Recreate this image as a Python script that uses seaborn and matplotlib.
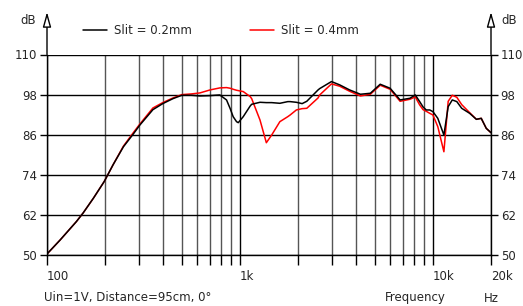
import numpy as np
import pandas as pd
import matplotlib
matplotlib.use('Agg')
import matplotlib.pyplot as plt
from matplotlib.ticker import FixedLocator, FixedFormatter, NullFormatter
import seaborn as sns

# Frequency response (Hz / dB)
freq = [100, 117, 142, 154, 174, 198, 220, 249, 280, 303, 354, 398, 450, 500,
        560, 620, 700, 786, 852, 890, 922, 960, 980, 1040, 1130, 1150, 1270,
        1370, 1460, 1610, 1770, 1820, 1960, 2100, 2220, 2540, 2590, 2980, 3290,
        3700, 4210, 4740, 5330, 6000, 6760, 7600, 8100, 8540, 8890, 9240, 9630,
        10000, 10600, 11400, 12000, 12600, 13300, 14100, 15500, 16800, 17800,
        18900, 20000]
slit_02 = [50.3, 54.5, 60.0, 62.6, 67.0, 72.0, 77.0, 82.4, 86.2, 88.9, 93.5,
           95.3, 96.8, 97.8, 97.8, 97.6, 97.7, 97.9, 96.4, 93.8, 91.4, 89.9,
           89.6, 91.4, 94.6, 95.1, 95.7, 95.6, 95.6, 95.4, 95.9, 95.9, 95.7,
           95.3, 96.0, 99.4, 99.8, 101.9, 100.9, 99.4, 98.1, 98.4, 101.1, 99.9,
           96.4, 96.9, 97.9, 95.9, 94.3, 93.4, 93.4, 92.9, 90.9, 85.9, 94.4,
           96.4, 95.9, 93.9, 92.4, 90.6, 90.9, 87.9, 86.6]
slit_04 = [50.3, 54.5, 60.0, 62.6, 67.0, 72.0, 77.0, 82.6, 86.6, 89.2, 94.0,
           95.6, 97.0, 98.0, 98.2, 98.5, 99.4, 100.0, 100.1, 99.9, 99.6, 99.3,
           99.2, 98.9, 97.4, 96.8, 90.4, 83.6, 85.9, 89.9, 91.4, 91.9, 93.4,
           93.8, 93.9, 97.0, 97.9, 101.2, 100.5, 99.0, 97.6, 98.1, 100.8, 99.6,
           96.0, 96.6, 97.3, 94.9, 93.5, 93.0, 92.4, 91.9, 88.4, 80.9, 96.0,
           97.8, 97.2, 95.0, 92.6, 90.6, 90.9, 87.9, 86.6]

y_ticks = [50, 62, 74, 86, 98, 110]
x_major = [100, 1000, 10000, 20000]
x_labels = ['100', '1k', '10k', '20k']
x_minor = [200, 300, 400, 500, 600, 700, 800, 900,
           2000, 3000, 4000, 5000, 6000, 7000, 8000, 9000]

df = pd.DataFrame({'Frequency': freq, 'Slit = 0.2mm': slit_02,
                   'Slit = 0.4mm': slit_04})

sns.set_style('white')
plt.rcParams['font.family'] = ['DejaVu Sans']

fig = plt.figure(figsize=(5.23, 3.06), dpi=100)
ax = fig.add_axes([47 / 523, 51 / 306, 444 / 523, 200.5 / 306])

sns.lineplot(data=df, x='Frequency', y='Slit = 0.4mm', color='red', lw=1.1,
             ax=ax, label='Slit = 0.4mm')
sns.lineplot(data=df, x='Frequency', y='Slit = 0.2mm', color='black', lw=1.1,
             ax=ax, label='Slit = 0.2mm')

ax.set_xscale('log')
ax.set_xlim(100, 20000)
ax.set_ylim(50, 110)
ax.set_xlabel('')
ax.set_ylabel('')

ax.xaxis.set_major_locator(FixedLocator(x_major))
ax.xaxis.set_major_formatter(FixedFormatter(x_labels))
ax.xaxis.set_minor_locator(FixedLocator(x_minor))
ax.xaxis.set_minor_formatter(NullFormatter())
ax.set_yticks(y_ticks)

ax.grid(which='major', axis='both', color='black', lw=1)
ax.grid(which='minor', axis='x', color='#555555', lw=1)
ax.set_axisbelow(True)

ax.tick_params(axis='x', which='both', direction='out', length=7, width=1,
               color='black', labelsize=8.5, pad=4, bottom=True)
ax.tick_params(axis='y', direction='out', length=5, width=1, color='black',
               labelsize=8.5, pad=2, left=True, right=True, labelright=True)
for lbl in ax.get_xticklabels():
    lbl.set_ha('left')

ax.spines['top'].set_visible(False)
for side in ['left', 'right', 'bottom']:
    ax.spines[side].set_color('black')
    ax.spines[side].set_linewidth(1)

# axis lines continue upward to hollow arrow heads
top = (255 - 12) / 200.5
for xa in [0, 1]:
    ax.annotate('', xy=(xa, top), xytext=(xa, 1), xycoords='axes fraction',
                textcoords='axes fraction', annotation_clip=False,
                arrowprops=dict(arrowstyle='-|>,head_length=0.9,head_width=0.25',
                                fc='white', ec='black', lw=1,
                                shrinkA=0, shrinkB=0))

fig.text(36 / 523, 1 - 20 / 306, 'dB', ha='right', va='center', fontsize=8.5)
fig.text(501 / 523, 1 - 20 / 306, 'dB', ha='left', va='center', fontsize=8.5)

handles, labels = ax.get_legend_handles_labels()
ax.legend(handles[::-1], labels[::-1], ncol=2, frameon=False, fontsize=8.5,
          loc='center left', bbox_to_anchor=(83 / 523, 1 - 31 / 306),
          bbox_transform=fig.transFigure, borderpad=0, borderaxespad=0,
          handlelength=2.0, handletextpad=0.65, columnspacing=4.9)

fig.text(44 / 523, 1 - 298 / 306, 'Uin=1V, Distance=95cm, 0°', ha='left',
         va='center', fontsize=8.5)
fig.text(385 / 523, 1 - 298 / 306, 'Frequency', ha='left', va='center',
         fontsize=8.5)
fig.text(484 / 523, 1 - 298 / 306, 'Hz', ha='left', va='center', fontsize=8.5)

fig.savefig('out.png', dpi=100)
